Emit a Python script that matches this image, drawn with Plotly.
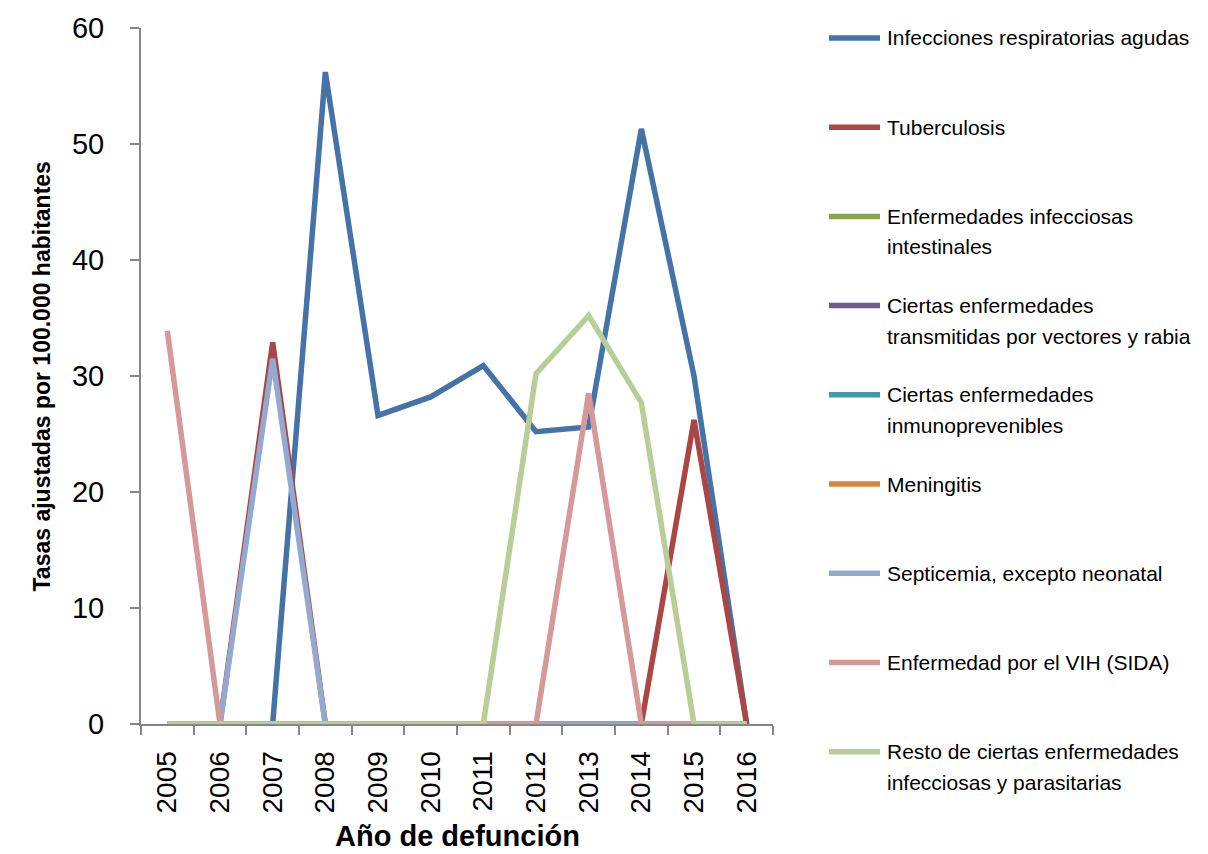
import plotly.graph_objects as go

# Years of death (x categories)
years = ["2005", "2006", "2007", "2008", "2009", "2010",
         "2011", "2012", "2013", "2014", "2015", "2016"]

# Adjusted rates per 100,000 inhabitants, one list per cause group
infecciones_resp = [0, 0, 0, 56.2, 26.6, 28.2, 30.9, 25.2, 25.6, 51.3, 30.0, 0]
tuberculosis = [0, 0, 32.9, 0, 0, 0, 0, 0, 0, 0, 26.2, 0]
intestinales = [0, 0, 0, 0, 0, 0, 0, 0, 0, 0, 0, 0]
vectores_rabia = [0, 0, 0, 0, 0, 0, 0, 0, 0, 0, 0, 0]
inmunoprevenibles = [0, 0, 0, 0, 0, 0, 0, 0, 0, 0, 0, 0]
meningitis = [0, 0, 0, 0, 0, 0, 0, 0, 0, 0, 0, 0]
septicemia = [0, 0, 31.5, 0, 0, 0, 0, 0, 0, 0, 0, 0]
vih_sida = [33.9, 0, 0, 0, 0, 0, 0, 0, 28.5, 0, 0, 0]
resto = [0, 0, 0, 0, 0, 0, 0, 30.2, 35.2, 27.7, 0, 0]

series_names = [
    "Infecciones respiratorias agudas",
    "Tuberculosis",
    "Enfermedades infecciosas<br>intestinales",
    "Ciertas enfermedades<br>transmitidas por vectores y rabia",
    "Ciertas enfermedades<br>inmunoprevenibles",
    "Meningitis",
    "Septicemia, excepto neonatal",
    "Enfermedad por el VIH (SIDA)",
    "Resto de ciertas enfermedades<br>infecciosas y parasitarias",
]
series_values = [infecciones_resp, tuberculosis, intestinales, vectores_rabia,
                 inmunoprevenibles, meningitis, septicemia, vih_sida, resto]
series_colors = ["#4572A7", "#AA4643", "#89A54E", "#71588F", "#4198AF",
                 "#DB843D", "#93A9CF", "#D59997", "#B9CD96"]

FONT = "Liberation Sans Narrow, Arial Narrow, Liberation Sans, Arial, sans-serif"
AXIS_GRAY = "#868686"

W, H = 1208, 854
PL, PR, PT, PB = 141, 773, 25, 724   # plot area in pixels

fig = go.Figure()
for name, vals, col in zip(series_names, series_values, series_colors):
    fig.add_trace(go.Scatter(
        x=years, y=vals, mode="lines", name=name.replace("<br>", " "),
        line=dict(color=col, width=5.5), cliponaxis=False,
        showlegend=False,
    ))

def px_to_paper_x(px):
    return (px - PL) / (PR - PL)

def px_to_paper_y(py):
    return (PB - py) / (PB - PT)

# Legend: sample line + label lines, evenly spaced down the right side
legend_y0 = 35
legend_step = 89.6
line_gap = 30.7
shapes = []
annotations = []
for i, (name, col) in enumerate(zip(series_names, series_colors)):
    yy = legend_y0 + i * legend_step
    shapes.append(dict(
        type="line", xref="paper", yref="paper",
        x0=px_to_paper_x(829), x1=px_to_paper_x(880),
        y0=px_to_paper_y(yy), y1=px_to_paper_y(yy),
        line=dict(color=col, width=5.5),
    ))
    for k, part in enumerate(name.split("<br>")):
        annotations.append(dict(
            text=part, xref="paper", yref="paper",
            x=px_to_paper_x(885), y=px_to_paper_y(yy + k * line_gap),
            xanchor="left", yanchor="middle", align="left", showarrow=False,
            font=dict(family=FONT, size=21, color="#000000"),
        ))

# Axis titles
annotations.append(dict(
    text="<b>Tasas ajustadas por 100.000 habitantes</b>",
    xref="paper", yref="paper", x=px_to_paper_x(42), y=px_to_paper_y(375),
    xanchor="center", yanchor="middle", textangle=-90, showarrow=False,
    font=dict(family=FONT, size=23, color="#000000"),
))
annotations.append(dict(
    text="<b>Año de defunción</b>",
    xref="paper", yref="paper", x=px_to_paper_x(457), y=px_to_paper_y(836),
    xanchor="center", yanchor="middle", showarrow=False,
    font=dict(family=FONT, size=29, color="#000000"),
))

fig.update_layout(
    width=W, height=H,
    margin=dict(l=PL, r=W - PR, t=PT, b=H - PB, pad=0),
    paper_bgcolor="white", plot_bgcolor="white",
    font=dict(family=FONT, color="#000000"),
    shapes=shapes, annotations=annotations,
    showlegend=False,
)
fig.update_xaxes(
    type="category", range=[-0.5, len(years) - 0.5],
    tickson="boundaries", ticks="outside", ticklen=9,
    tickwidth=2, tickcolor=AXIS_GRAY, showline=True, linecolor=AXIS_GRAY,
    linewidth=2, showgrid=False, zeroline=False, tickangle=-90,
    tickfont=dict(family=FONT, size=28, color="#000000"),
    ticklabelstandoff=14, layer="below traces",
)
fig.update_yaxes(
    range=[0, 60], dtick=10, ticks="outside", ticklen=9, tickwidth=2,
    tickcolor=AXIS_GRAY, showline=True, linecolor=AXIS_GRAY, linewidth=2,
    showgrid=False, zeroline=False,
    tickfont=dict(family=FONT, size=29, color="#000000"),
    ticklabelstandoff=20, layer="below traces",
)

fig.write_html("out.html")
